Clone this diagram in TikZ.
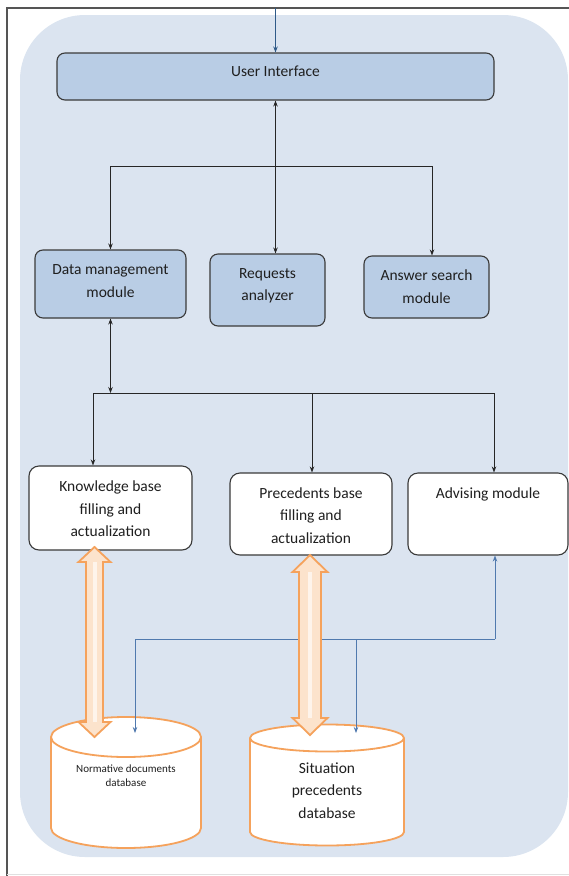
\documentclass[tikz,border=0pt]{standalone}
\usepackage{fontspec}
\setmainfont{Carlito}
\usetikzlibrary{arrows.meta,calc}
\definecolor{bgblue}{HTML}{DBE4F0}
\definecolor{boxblue}{HTML}{B9CDE5}
\definecolor{edgegray}{HTML}{3A3A3A}
\definecolor{orng}{HTML}{F5A25C}
\definecolor{peach}{HTML}{FCE3CC}
\definecolor{lineblue}{HTML}{5079AE}
\definecolor{topblue}{HTML}{2F5A88}
\definecolor{framegray}{HTML}{555555}
\newcommand{\dblarr}[6]{%
  \draw[orng, line width=1.8pt, fill=peach, line join=miter]
   (#1,#2) -- (#1+#5,#2+#6) -- (#1+#4,#2+#6) -- (#1+#4,#3-#6) -- (#1+#5,#3-#6) -- (#1,#3)
   -- (#1-#5,#3-#6) -- (#1-#4,#3-#6) -- (#1-#4,#2+#6) -- (#1-#5,#2+#6) -- cycle;
  \draw[white!60!peach, line width=4pt] (#1,#2+#6) -- (#1,#3-#6);}
\newcommand{\cyl}[5]{%
  \filldraw[orng, fill=white, line width=1.8pt]
   (#1,#3) -- (#1,#4) arc[start angle=180, end angle=0, x radius={(#2-#1)/2}, y radius=#5]
   -- (#2,#3) arc[start angle=0, end angle=-180, x radius={(#2-#1)/2}, y radius=#5] -- cycle;
  \draw[orng, line width=1.8pt] (#1,#3) arc[start angle=180, end angle=0, x radius={(#2-#1)/2}, y radius=#5];}
\begin{document}
\begin{tikzpicture}[x=1pt,y=-1pt,
  upbox/.style={draw=edgegray, line width=1.1pt, fill=boxblue, rounded corners=8pt, inner sep=0pt},
  lowbox/.style={draw=edgegray, line width=1.1pt, fill=white, rounded corners=10pt, inner sep=0pt},
  txt/.style={align=center, text=black!88, inner sep=0pt, font=\fontsize{15.5}{22.5}\selectfont},
  smalltxt/.style={align=center, text=black!88, inner sep=0pt, font=\fontsize{11}{14}\selectfont},
  conn/.style={draw=black!85, line width=0.8pt},
  tip/.style={-{Stealth[length=6pt,width=4.5pt]}},
  tips/.style={{Stealth[length=6pt,width=4.5pt]}-{Stealth[length=6pt,width=4.5pt]}},
  bconn/.style={draw=lineblue, line width=0.8pt}]
\useasboundingbox (0,0) rectangle (569,876);
% frame and background
\draw[framegray, line width=1.6pt] (7,876) -- (7,8) -- (569,8);
\draw[black!12, line width=1pt] (7,874.5) -- (569,874.5);
\fill[bgblue, rounded corners=65pt] (20,15) rectangle (568,857);
% upper boxes
\node[upbox, minimum width=437pt, minimum height=47pt] (ui) at (275.5,76.5) {};
\node[txt] (uit) at (275.5,71) {User Interface};
\node[upbox, minimum width=151pt, minimum height=68pt] (dm) at (110.5,284) {};
\node[txt] (dmt) at (110.5,281) {Data management\\module};
\node[upbox, minimum width=115pt, minimum height=72pt] (ra) at (267.5,290) {};
\node[txt] (rat) at (267.5,286) {Requests\\analyzer};
\node[upbox, minimum width=125pt, minimum height=62pt] (as) at (426.5,287) {};
\node[txt] (ast) at (426.5,286.5) {Answer search\\module};
% lower boxes
\node[lowbox, minimum width=163pt, minimum height=84pt] (kb) at (110.5,508) {};
\node[txt] (kbt) at (110.5,509) {Knowledge base\\filling and\\actualization};
\node[lowbox, minimum width=162pt, minimum height=82pt] (pb) at (311,514) {};
\node[txt] (pbt) at (311,515.5) {Precedents base\\filling and\\actualization};
\node[lowbox, minimum width=160pt, minimum height=82pt] (adv) at (488,514) {};
\node[txt] (advt) at (488,494) {Advising module};
% top connectors
\coordinate (in) at (275.5,8);
\draw[topblue, line width=1.2pt, tip] (in) -- (ui.north);
\coordinate (bus1) at (275.5,166);
\coordinate (bus1l) at (110.5,166);
\coordinate (bus1r) at (432,166);
\draw[conn, tips] (ui.south) -- (ui.south |- ra.north);
\draw[conn, tip] (bus1) -- (bus1l) -- (dm.north);
\draw[conn, tip] (bus1) -- (bus1r) -- (bus1r |- as.north);
% second bus
\coordinate (bus2) at (110.5,393);
\coordinate (bus2l) at (93,393);
\coordinate (bus2m) at (312,393);
\coordinate (bus2r) at (494,393);
\draw[conn, tips] (dm.south) -- (bus2);
\draw[conn] (bus2l) -- (bus2r);
\draw[conn, tip] (bus2l) -- (bus2l |- kb.north);
\draw[conn, tip] (bus2m) -- (bus2m |- pb.north);
\draw[conn, tip] (bus2r) -- (bus2r |- adv.north);
% databases
\cyl{51}{201}{737}{828}{20}
\node[smalltxt] (nd) at (126,776) {Normative documents\\database};
\cyl{250}{404}{738}{832}{13.5}
\node[txt] (sp) at (327,790.5) {Situation\\precedents\\database};
% blue connectors
\coordinate (b1) at (495,639);
\coordinate (b2) at (135,639);
\coordinate (b3) at (356,639);
\coordinate (ndtop) at (135,733);
\coordinate (sptop) at (356,733);
\draw[bconn, tip] (b1) -- (b1 |- adv.south);
\draw[bconn] (b1) -- (b2);
\draw[bconn, tip] (b2) -- (ndtop);
\draw[bconn, tip] (b3) -- (sptop);
% orange double arrows
\dblarr{94.5}{547}{737}{8.5}{16}{15}
\dblarr{310}{555}{735}{11}{17.5}{17}
\end{tikzpicture}
\end{document}
